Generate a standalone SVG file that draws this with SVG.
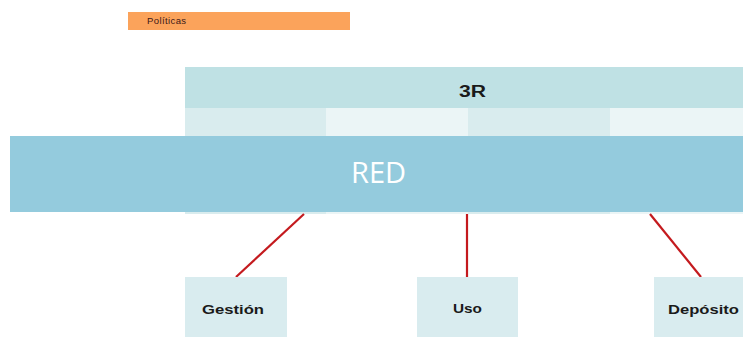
<svg xmlns="http://www.w3.org/2000/svg" width="743" height="337" viewBox="0 0 743 337">
  <style>
    .lbl { font-family: "Liberation Sans", Arial, sans-serif; font-weight: bold; fill: #1a1a1a; font-size: 13px; }
    .leaf rect { fill: #d9ecef; }
    .link { stroke: #c41a1e; stroke-width: 2.2; fill: none; }
  </style>
  <rect width="743" height="337" fill="#ffffff"/>

  <!-- policy tab -->
  <g id="politicas">
    <rect x="128" y="12" width="222" height="18" fill="#fba35b"/>
    <text x="147" y="24" font-family="Liberation Sans, Arial, sans-serif" font-size="9.5" letter-spacing="0.4" fill="#3b1818">Políticas</text>
  </g>

  <!-- 3R header and sub-cells -->
  <g id="tres-r">
    <rect x="185" y="67" width="558" height="42" fill="#bfe1e4"/>
    <rect x="185" y="108" width="141" height="106" fill="#d9ecee"/>
    <rect x="326" y="108" width="142" height="106" fill="#ebf5f6"/>
    <rect x="468" y="108" width="142" height="106" fill="#d9ecee"/>
    <rect x="610" y="108" width="133" height="106" fill="#ebf5f6"/>
    <text class="lbl" x="459" y="97" style="font-size:16px" textLength="27" lengthAdjust="spacingAndGlyphs">3R</text>
  </g>

  <!-- network band -->
  <g id="red">
    <rect x="10" y="136" width="733" height="76" fill="#94cbdd"/>
    <text x="351" y="183" font-family="Open Sans, Liberation Sans, sans-serif" font-size="29" fill="#ffffff">RED</text>
  </g>

  <!-- connectors -->
  <g id="connectors">
    <line class="link" x1="304" y1="214" x2="236" y2="277"/>
    <line class="link" x1="467" y1="214" x2="467" y2="277"/>
    <line class="link" x1="650" y1="214" x2="701" y2="277"/>
  </g>

  <g id="gestion" class="leaf">
    <rect x="185" y="277" width="102" height="60"/>
    <text class="lbl" x="202" y="314" textLength="62" lengthAdjust="spacingAndGlyphs">Gestión</text>
  </g>
  <g id="uso" class="leaf">
    <rect x="417" y="277" width="101" height="60"/>
    <text class="lbl" x="453" y="313" textLength="29" lengthAdjust="spacingAndGlyphs">Uso</text>
  </g>
  <g id="deposito" class="leaf">
    <rect x="654" y="277" width="89" height="60"/>
    <text class="lbl" x="668" y="314" textLength="71" lengthAdjust="spacingAndGlyphs">Depósito</text>
  </g>
</svg>
